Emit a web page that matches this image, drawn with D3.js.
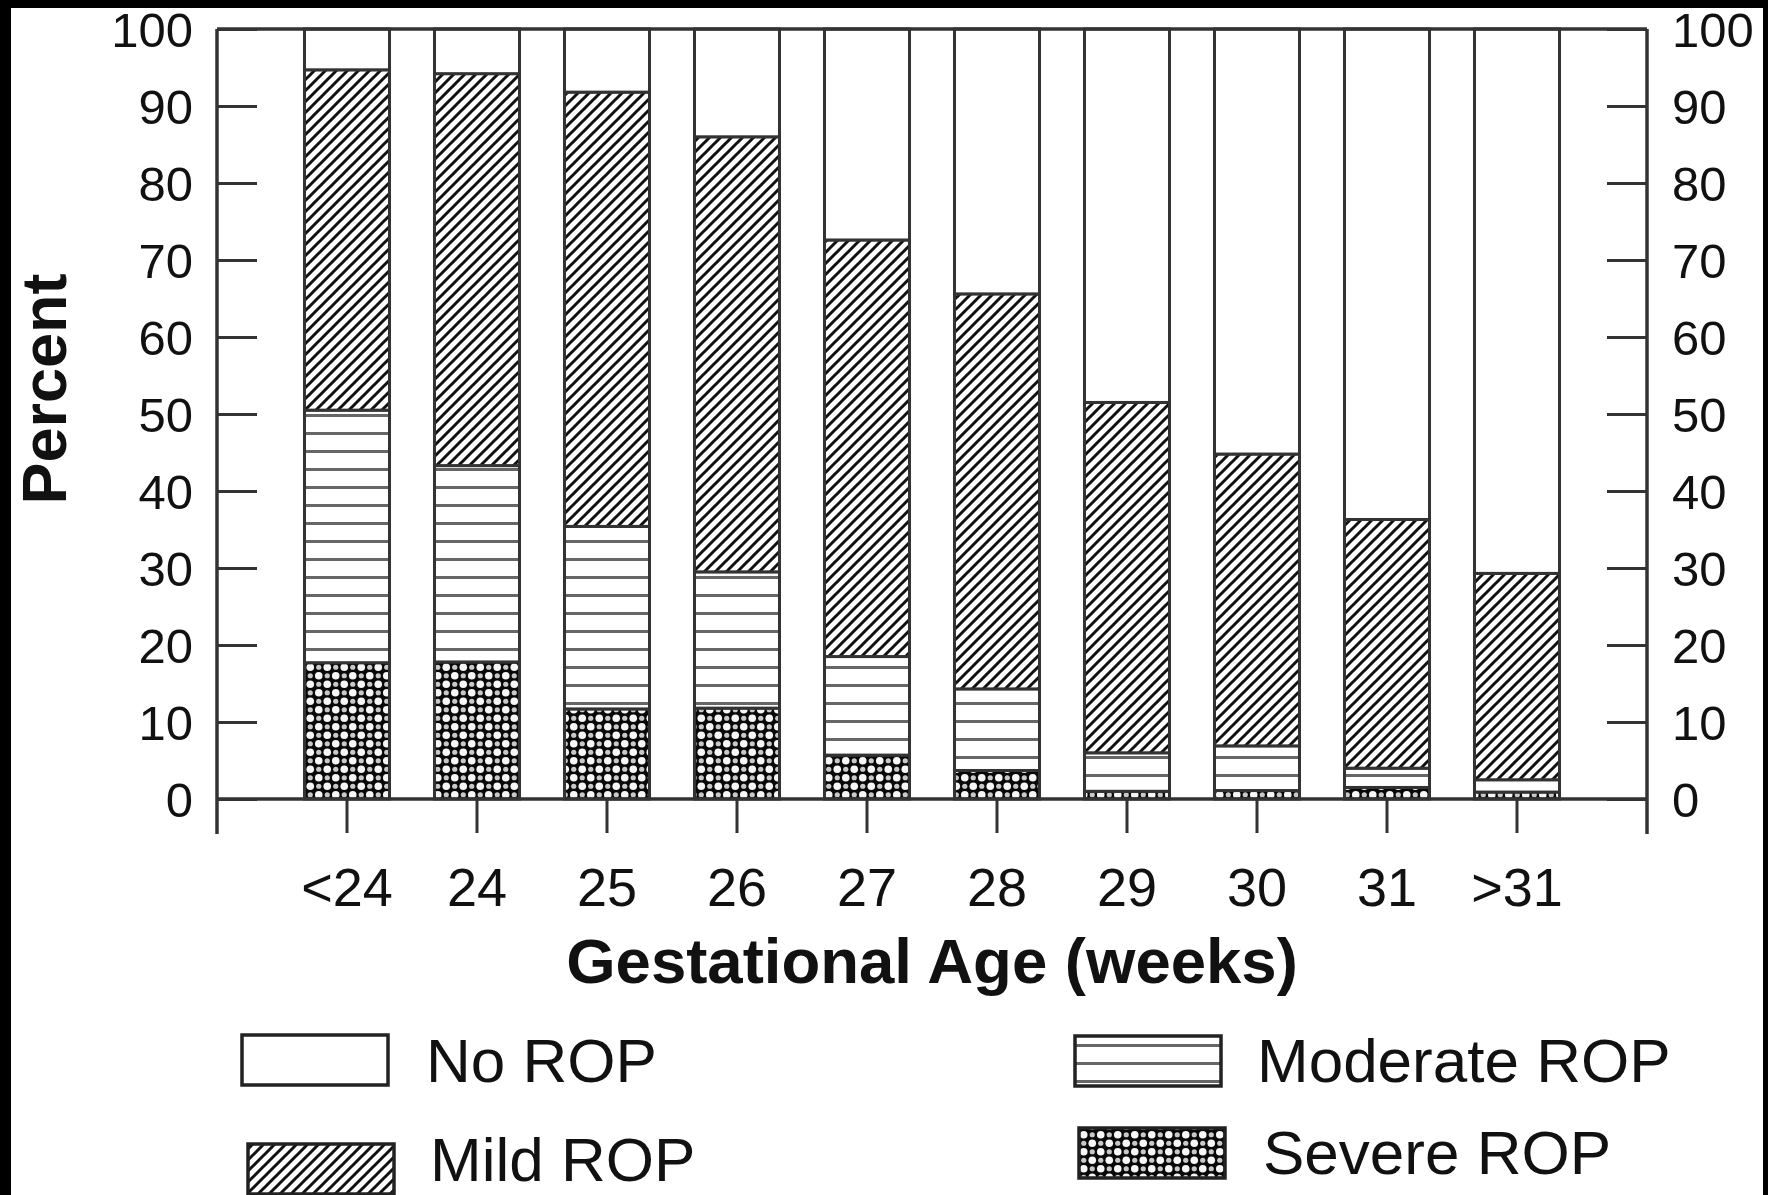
<!DOCTYPE html>
<html><head><meta charset="utf-8">
<script src="https://cdn.jsdelivr.net/npm/d3@7/dist/d3.min.js"></script>
<style>
html,body{margin:0;padding:0;background:#fff;}
svg{display:block;}
text{font-family:"Liberation Sans", Arial, sans-serif;fill:#111;}
</style></head>
<body>
<svg id="chart" width="1768" height="1195"></svg>
<script>
const categories = ["<24","24","25","26","27","28","29","30","31",">31"];
const severeROP   = [17.7, 17.8, 11.7, 11.8, 5.7, 3.7, 1.0, 1.1, 1.5, 0.9];
const moderateROP = [32.8, 25.5, 23.7, 17.7, 12.8, 10.6, 5.0, 5.8, 2.5, 1.6];
const mildROP     = [44.2, 50.9, 56.4, 56.5, 54.1, 51.3, 45.5, 37.9, 32.3, 26.8];
const noROP       = [5.3, 5.8, 8.2, 14.0, 27.4, 34.4, 48.5, 55.2, 63.7, 70.7];
const yTicks = [0,10,20,30,40,50,60,70,80,90,100];
const seriesKeys = ["severe","moderate","mild","none"];
const legendLabels = {none:"No ROP", mild:"Mild ROP", moderate:"Moderate ROP", severe:"Severe ROP"};

(function(){
const svg = d3.select("#chart");
const W = 1768, H = 1195;
const pLeft = 217, pRight = 1647, pTop = 29, pBottom = 799;

svg.append("rect").attr("width",W).attr("height",H).attr("fill","#fff");

const defs = svg.append("defs");
const pm = defs.append("pattern").attr("id","p-mild").attr("patternUnits","userSpaceOnUse")
  .attr("width",11).attr("height",11);
pm.append("rect").attr("width",11).attr("height",11).attr("fill","#fff");
pm.append("path").attr("d","M-2,13 L13,-2 M-2,2 L2,-2 M9,13 L13,9").attr("stroke","#111").attr("stroke-width",3);
const pmo = defs.append("pattern").attr("id","p-moderate").attr("patternUnits","userSpaceOnUse")
  .attr("width",20).attr("height",18);
pmo.append("rect").attr("width",20).attr("height",18).attr("fill","#fff");
pmo.append("rect").attr("y",0).attr("width",20).attr("height",3).attr("fill","#666");
const ps = defs.append("pattern").attr("id","p-severe").attr("patternUnits","userSpaceOnUse")
  .attr("width",17).attr("height",17);
ps.append("rect").attr("width",17).attr("height",17).attr("fill","#080808");
ps.append("circle").attr("cx",4.25).attr("cy",4.25).attr("r",3.8).attr("fill","#f6f6f6");
ps.append("circle").attr("cx",12.75).attr("cy",12.75).attr("r",3.8).attr("fill","#f6f6f6");
ps.append("circle").attr("cx",12.75).attr("cy",4.25).attr("r",2.6).attr("fill","#c8c8c8");
ps.append("circle").attr("cx",4.25).attr("cy",12.75).attr("r",2.6).attr("fill","#c8c8c8");
const fills = {none:"#fff", mild:"url(#p-mild)", moderate:"url(#p-moderate)", severe:"url(#p-severe)"};

const x = d3.scaleBand().domain(categories).range([pLeft,pRight]).paddingInner(0.346).paddingOuter(0.673);
const y = d3.scaleLinear().domain([0,100]).range([pBottom,pTop]);

const rows = categories.map((c,i)=>({cat:c, severe:severeROP[i], moderate:moderateROP[i], mild:mildROP[i], none:noROP[i]}));
const stacked = d3.stack().keys(seriesKeys)(rows);

const stroke = "#333";
svg.append("g").selectAll("g").data(stacked).join("g")
  .attr("fill", d=>fills[d.key])
  .selectAll("rect").data(d=>d).join("rect")
  .attr("x", d=>x(d.data.cat))
  .attr("y", d=>y(d[1]))
  .attr("width", x.bandwidth())
  .attr("height", d=>y(d[0])-y(d[1]))
  .attr("stroke", stroke).attr("stroke-width",3);

svg.append("line").attr("x1",pLeft).attr("x2",pRight).attr("y1",pTop).attr("y2",pTop).attr("stroke",stroke).attr("stroke-width",3.5);

const font = "Liberation Sans, Arial, sans-serif";
const gl = svg.append("g").attr("transform",`translate(${pLeft},0)`)
  .call(d3.axisLeft(y).tickValues(yTicks).tickSizeInner(-40).tickSizeOuter(0).tickPadding(24));
gl.select(".domain").remove();
gl.selectAll(".tick line").attr("stroke",stroke).attr("stroke-width",3);
gl.selectAll(".tick text").attr("font-size",49).attr("fill","#111").attr("font-family",font).attr("dy","0.36em");
gl.append("line").attr("y1",pTop).attr("y2",834).attr("stroke",stroke).attr("stroke-width",3.5);

const gr = svg.append("g").attr("transform",`translate(${pRight},0)`)
  .call(d3.axisRight(y).tickValues(yTicks).tickSizeInner(-40).tickSizeOuter(0).tickPadding(25));
gr.select(".domain").remove();
gr.selectAll(".tick line").attr("stroke",stroke).attr("stroke-width",3);
gr.selectAll(".tick text").attr("font-size",49).attr("fill","#111").attr("font-family",font).attr("dy","0.36em");
gr.append("line").attr("y1",pTop).attr("y2",834).attr("stroke",stroke).attr("stroke-width",3.5);

const gb = svg.append("g").attr("transform",`translate(0,${pBottom})`)
  .call(d3.axisBottom(x).tickSizeInner(34).tickSizeOuter(0).tickPadding(35));
gb.select(".domain").remove();
gb.selectAll(".tick line").attr("stroke",stroke).attr("stroke-width",3);
gb.selectAll(".tick text").attr("font-size",54).attr("fill","#111").attr("font-family",font).attr("dy","0.71em");
gb.append("line").attr("x1",pLeft).attr("x2",pRight).attr("stroke",stroke).attr("stroke-width",3.5);

svg.append("text").attr("x",932).attr("y",983).attr("text-anchor","middle")
  .attr("font-size",63.5).attr("font-weight","bold").text("Gestational Age (weeks)");
svg.append("text").attr("transform","translate(66,389) rotate(-90)").attr("text-anchor","middle")
  .attr("font-size",63).attr("font-weight","bold").text("Percent");

const legendPos = {
  none:{bx:242, by:1035, tx:426, ty:1082},
  moderate:{bx:1075, by:1036, tx:1257, ty:1082},
  mild:{bx:248, by:1144, tx:430, ty:1181},
  severe:{bx:1079, by:1128, tx:1263, ty:1174}
};
const lg = svg.append("g");
["none","mild","moderate","severe"].forEach(k=>{
  const p = legendPos[k];
  lg.append("rect").attr("x",p.bx).attr("y",p.by).attr("width",146).attr("height",50)
    .attr("fill",fills[k]).attr("stroke","#222").attr("stroke-width",3.5);
  lg.append("text").attr("x",p.tx).attr("y",p.ty).attr("font-size",62).text(legendLabels[k]);
});

svg.append("rect").attr("x",0).attr("y",0).attr("width",W).attr("height",8).attr("fill","#000");
svg.append("rect").attr("x",0).attr("y",0).attr("width",11).attr("height",H).attr("fill","#000");
svg.append("rect").attr("x",W-5).attr("y",0).attr("width",5).attr("height",H).attr("fill","#000");
})();
</script>
</body></html>
